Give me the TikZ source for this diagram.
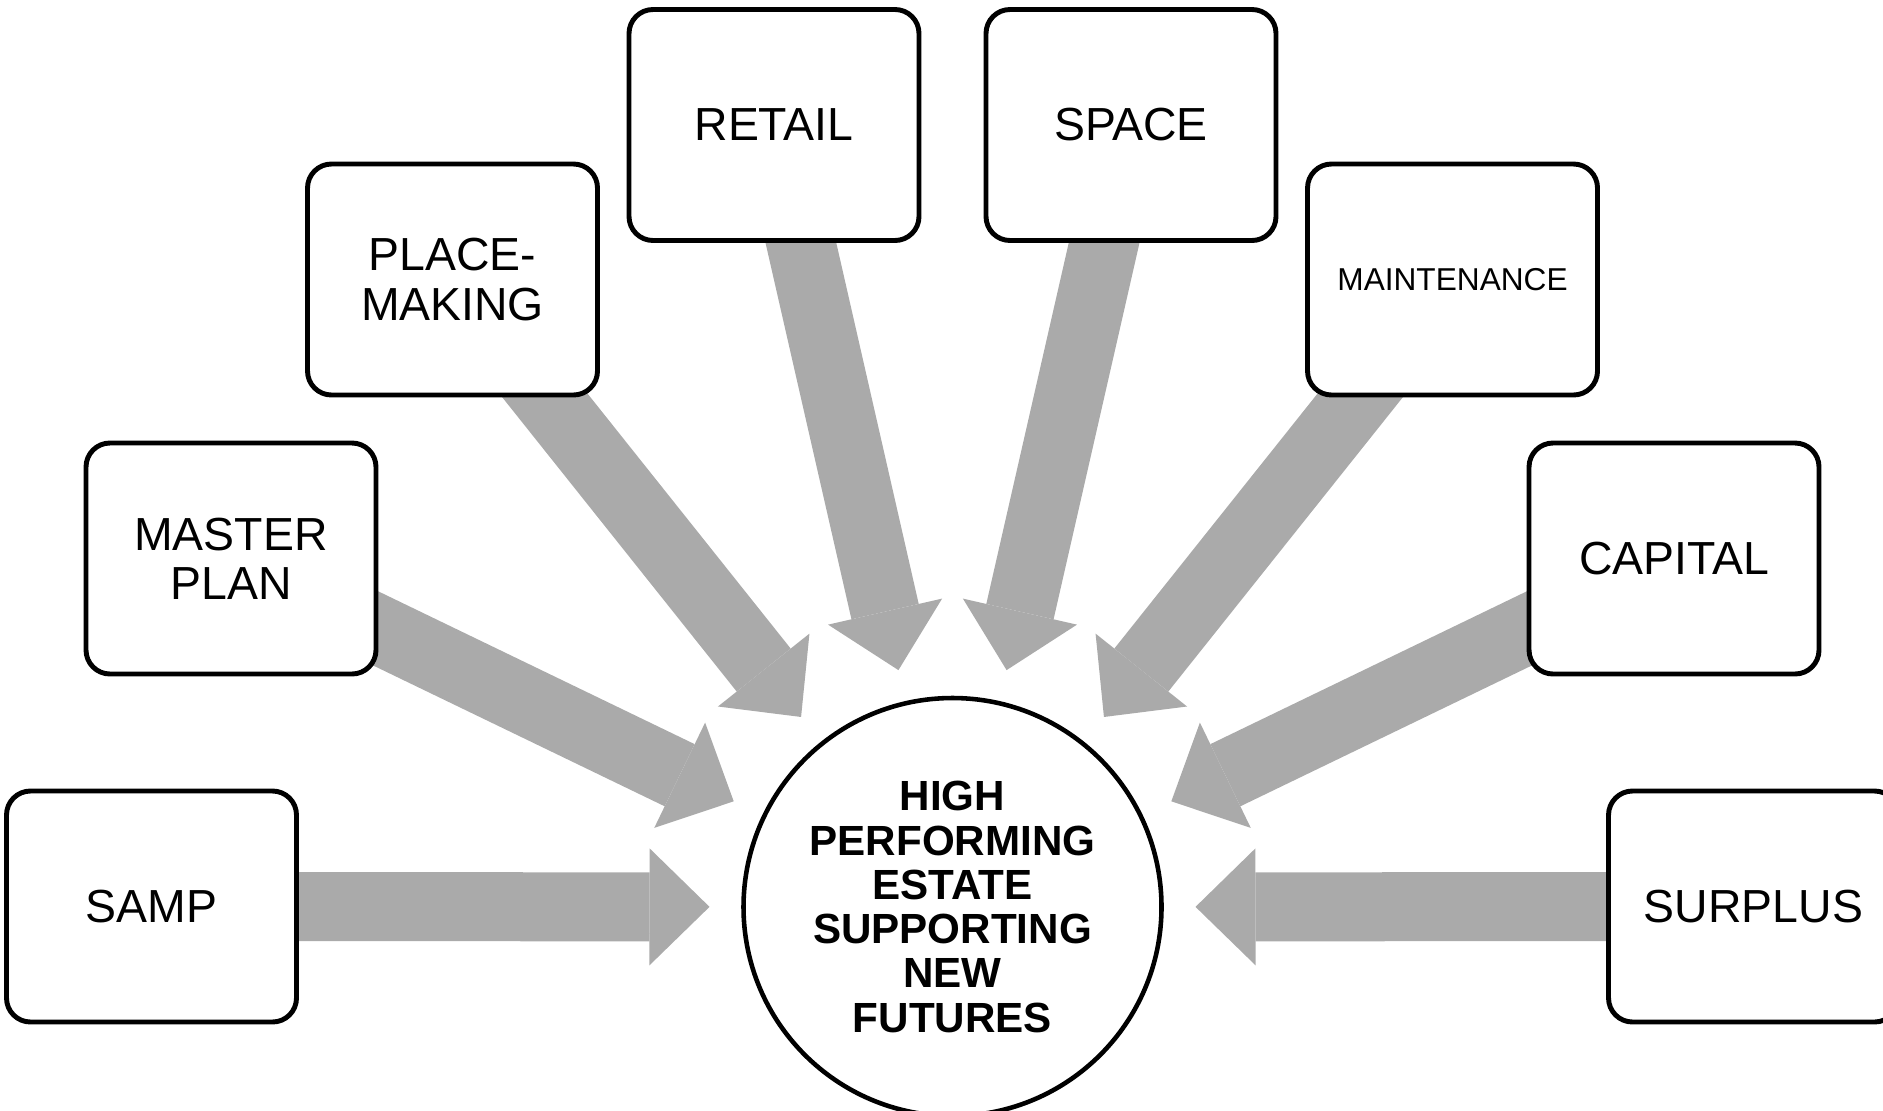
\documentclass[tikz,border=0pt]{standalone}
\usepackage{fontspec}
\setmainfont{Liberation Sans}
\usetikzlibrary{arrows.meta,calc,backgrounds}
\definecolor{arrowgray}{RGB}{170,170,170}

\begin{document}
\begin{tikzpicture} [
  topic/.style={draw, line width=1.4pt, rounded corners=0.24cm, fill=white,
    minimum width=2.9cm, minimum height=2.31cm, inner sep=0pt, align=center,
    font=\fontsize{13.2}{14}\selectfont},
  smalltopic/.style={topic, font=\fontsize{9}{10}\selectfont},
  hub/.style={draw, circle, line width=1.3pt, fill=white, minimum size=4.18cm,
    inner sep=0pt, align=center, font=\fontsize{12}{12.6}\selectfont\bfseries},
  feed/.style={line width=0.69cm, arrowgray,
    -{Triangle[length=0.6cm, width=1.17cm, line width=0pt]}}
]
\useasboundingbox (0,0) rectangle (18.83,11.10);
\node [hub] (hub) at (9.525,2.03) {HIGH\\PERFORMING\\ESTATE\\SUPPORTING\\NEW\\FUTURES};
\node [topic] (samp) at (1.515,2.035) {SAMP};
\node [topic] (master) at (2.31,5.515) {MASTER\\PLAN};
\node [topic] (place) at (4.525,8.305) {PLACE-\\MAKING};
\node [topic] (retail) at (7.74,9.85) {RETAIL};
\node [topic] (space) at (11.31,9.85) {SPACE};
\node [smalltopic] (maint) at (14.525,8.305) {MAINTENANCE};
\node [topic] (capital) at (16.74,5.515) {CAPITAL};
\node [topic] (surplus) at (17.535,2.035) {SURPLUS};
\begin{scope} [on background layer]
\draw [feed] (samp.center) -- ($(hub.center)!2.43cm!(samp.center)$);
\draw [feed] (master.center) -- ($(hub.center)!2.43cm!(master.center)$);
\draw [feed] (place.center) -- ($(hub.center)!2.43cm!(place.center)$);
\draw [feed] (retail.center) -- ($(hub.center)!2.43cm!(retail.center)$);
\draw [feed] (space.center) -- ($(hub.center)!2.43cm!(space.center)$);
\draw [feed] (maint.center) -- ($(hub.center)!2.43cm!(maint.center)$);
\draw [feed] (capital.center) -- ($(hub.center)!2.43cm!(capital.center)$);
\draw [feed] (surplus.center) -- ($(hub.center)!2.43cm!(surplus.center)$);
\end{scope}
\end{tikzpicture}
\end{document}
